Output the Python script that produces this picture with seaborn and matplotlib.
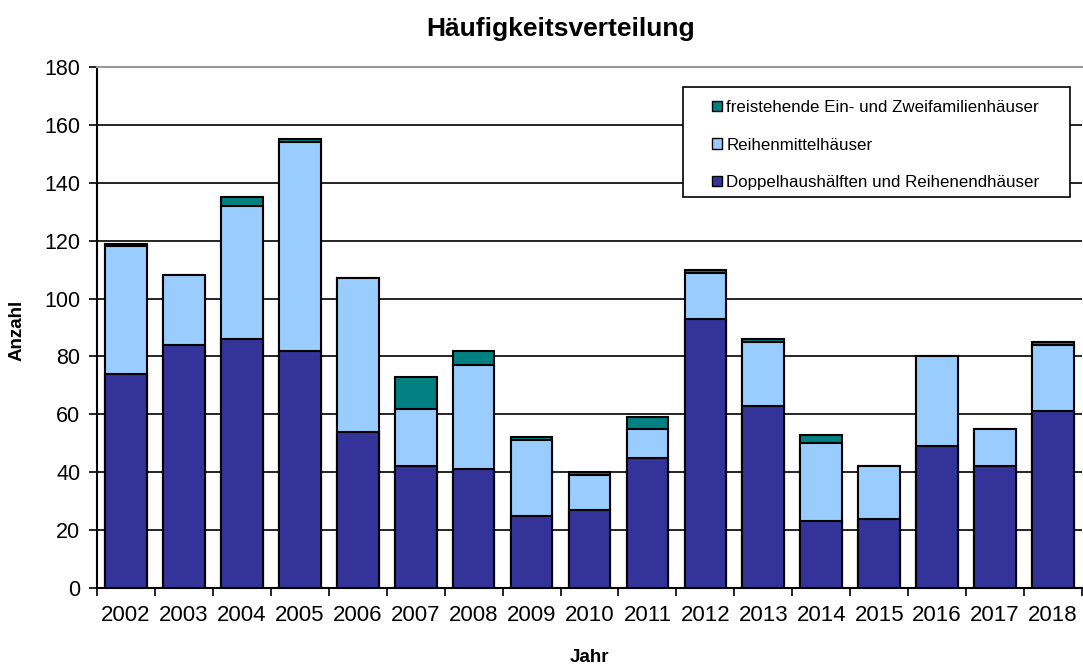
import matplotlib
matplotlib.use("Agg")
import matplotlib.pyplot as plt
import seaborn as sns
import pandas as pd
import numpy as np
from matplotlib.patches import Patch, Rectangle
from matplotlib.ticker import FixedLocator

years = [str(y) for y in range(2002, 2019)]
doppel = [74, 84, 86, 82, 54, 42, 41, 25, 27, 45, 93, 63, 23, 24, 49, 42, 61]
reihenmittel = [44, 24, 46, 72, 53, 20, 36, 26, 12, 10, 16, 22, 27, 18, 31, 13, 23]
freistehend = [1, 0, 3, 1, 0, 11, 5, 1, 1, 4, 1, 1, 3, 0, 0, 0, 1]

labels = ["freistehende Ein- und Zweifamilienhäuser",
          "Reihenmittelhäuser",
          "Doppelhaushälften und Reihenendhäuser"]
colors = ["#008080", "#99CCFF", "#333399"]

df = pd.DataFrame({"Jahr": years, "d": doppel, "r": reihenmittel, "f": freistehend})
df["dr"] = df["d"] + df["r"]
df["total"] = df["dr"] + df["f"]

sns.set_theme(style="white")
plt.rcParams["font.family"] = ["Liberation Sans", "DejaVu Sans"]
plt.rcParams.update({"text.color": "black", "axes.labelcolor": "black",
                     "xtick.color": "black", "ytick.color": "black"})

W, H = 1083, 666
fig = plt.figure(figsize=(W/100, H/100), dpi=100)
ax = fig.add_axes([97/W, 1 - 588/H, (1082 - 97)/W, (588 - 67)/H])

for col, c in zip(["total", "dr", "d"], colors):
    sns.barplot(data=df, x="Jahr", y=col, color=c, width=0.72, edgecolor="black",
                linewidth=1.5, saturation=1, ax=ax, zorder=3)

ax.set_ylim(0, 180)
ax.set_xlim(-0.5, len(years) - 0.5)
ax.set_yticks(np.arange(0, 181, 20))
ax.yaxis.grid(True, color="black", linewidth=1.2, zorder=0)
ax.set_axisbelow(True)

for s in ["left", "bottom"]:
    ax.spines[s].set_color("black")
    ax.spines[s].set_linewidth(1.5)
ax.spines["top"].set_color("#999999")
ax.spines["top"].set_linewidth(1.5)
ax.spines["right"].set_visible(False)

ax.tick_params(axis="y", which="major", length=6, width=1.2, color="black",
               direction="out", left=True, labelsize=15.5, pad=6)
ax.tick_params(axis="x", which="major", length=0, labelsize=16, pad=12)
ax.xaxis.set_minor_locator(FixedLocator(np.arange(-0.5, len(years), 1.0)))
ax.tick_params(axis="x", which="minor", length=6, width=1.2, color="black",
               direction="out", bottom=True)

ax.set_xlabel("")
ax.set_ylabel("")
fig.text(589/W, 1 - 657/H, "Jahr",
         ha="center", va="center", fontsize=13.5, fontweight="bold")
fig.text(17/W, 1 - 330/H, "Anzahl", ha="center", va="center", rotation=90,
         fontsize=13.5, fontweight="bold")
fig.text(561/W, 1 - 29/H, "Häufigkeitsverteilung", ha="center",
         va="center", fontsize=19, fontweight="bold")

# legend box
box = Rectangle((683/W, 1 - 197/H), (1070 - 683)/W, (197 - 87)/H,
                transform=fig.transFigure, facecolor="white", edgecolor="black",
                linewidth=1.2, zorder=4, clip_on=False)
ax.add_patch(box)

handles = [Patch(facecolor=c, edgecolor="black", linewidth=1) for c in colors]
leg = ax.legend(handles, labels, loc="center left",
                bbox_to_anchor=(712/W, 1 - 145/H), bbox_transform=fig.transFigure,
                fontsize=12.2, frameon=False, handlelength=0.6, handleheight=0.6,
                handletextpad=0.25, labelspacing=1.33, borderpad=0,
                borderaxespad=0)
leg.set_zorder(5)

fig.savefig("out.png", dpi=100)
